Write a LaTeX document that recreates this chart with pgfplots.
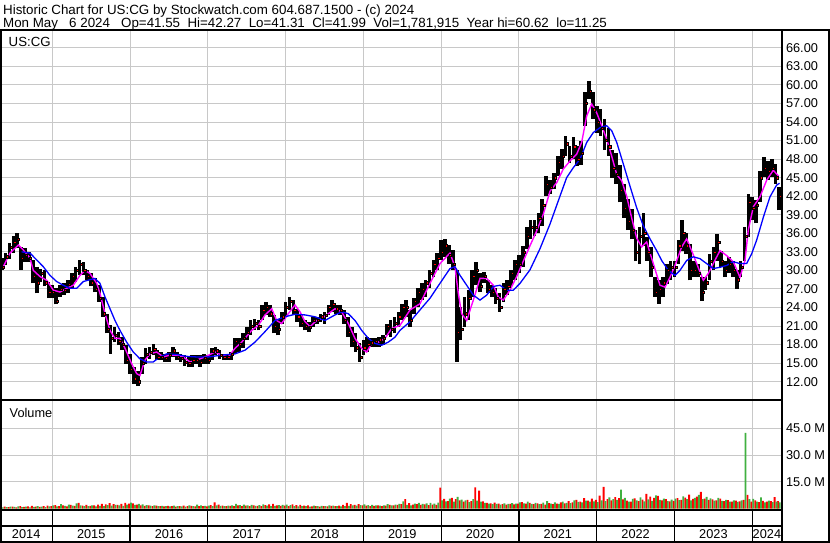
\documentclass[border=0pt]{standalone}
\usepackage{pgfplots}
\pgfplotsset{compat=1.18}
\usepackage{pgfplotstable}
\usepackage{fontspec}
\setmainfont{Liberation Sans}
\definecolor{gridc}{RGB}{200,200,200}
\definecolor{volred}{RGB}{255,0,0}
\definecolor{volgreen}{RGB}{64,176,64}
\definecolor{mafast}{RGB}{255,0,255}
\definecolor{maslow}{RGB}{0,0,255}
\newcommand{\lblfont}{\fontsize{12.8}{14}\selectfont}
\newcommand{\usfont}{\fontsize{13.3}{15}\selectfont}
\newcommand{\ttlfont}{\fontsize{13.4}{15}\selectfont}

\pgfplotstableread{
t lo hi cl rv gv
2014.35 30.0 32.0 30.5 0.9 0.7
2014.40 30.9 32.8 32.2 1.1 0.8
2014.45 31.9 34.4 33.8 0.8 1.0
2014.50 32.8 35.5 34.5 1.0 0.9
2014.55 33.6 36.0 35.0 0.7 1.2
2014.60 30.1 33.8 32.0 1.3 0.8
2014.65 31.4 33.6 32.5 0.9 1.0
2014.70 31.4 33.0 32.0 1.2 0.7
2014.75 27.9 31.7 29.0 1.5 0.9
2014.80 26.3 30.6 28.0 1.1 1.3
2014.85 28.2 30.3 29.5 0.9 1.0
2014.90 27.4 30.1 28.0 1.3 0.8
2014.95 25.5 28.2 26.5 1.6 1.2
2015.00 25.5 27.6 26.5 1.4 1.8
2015.05 24.5 27.1 25.0 1.9 1.2
2015.10 25.7 27.6 27.0 1.3 2.4
2015.15 26.0 27.9 26.8 1.7 1.5
2015.20 26.3 28.4 27.8 1.2 2.2
2015.25 27.1 29.5 29.0 2.0 1.6
2015.30 28.2 30.6 30.0 1.5 2.9
2015.35 29.2 31.7 31.0 3.2 1.8
2015.40 29.2 31.4 30.0 1.6 1.4
2015.45 28.4 30.0 29.0 2.1 1.3
2015.50 27.4 29.5 28.0 1.5 1.7
2015.55 26.5 28.7 27.0 1.8 1.2
2015.60 24.9 27.6 25.5 2.2 1.5
2015.65 22.5 25.7 23.0 2.6 1.4
2015.70 19.8 23.0 20.5 2.3 1.9
2015.75 16.5 21.1 19.0 3.0 1.6
2015.80 18.4 20.9 19.5 2.4 2.0
2015.85 17.9 20.1 18.5 2.0 1.7
2015.90 17.1 19.2 18.0 2.6 1.5
2015.95 14.9 17.9 15.5 3.1 2.2
2016.00 13.3 16.5 14.0 2.7 3.3
2016.05 11.7 14.4 12.5 2.9 2.1
2016.10 11.3 13.8 12.0 2.2 2.6
2016.15 13.3 16.0 15.0 1.8 2.3
2016.20 14.9 17.4 16.5 1.5 1.9
2016.25 15.7 17.6 16.8 1.7 1.6
2016.30 16.3 18.1 17.2 1.4 1.8
2016.35 15.5 17.1 16.0 1.6 1.3
2016.40 15.5 16.8 16.0 1.3 1.5
2016.45 15.2 16.5 15.8 1.2 1.4
2016.50 15.2 16.8 16.3 1.5 1.2
2016.55 16.0 17.6 17.0 1.3 1.6
2016.60 15.5 16.8 16.0 1.1 1.3
2016.65 15.2 16.5 15.8 1.4 1.2
2016.70 14.6 16.3 15.2 1.6 1.1
2016.75 14.4 16.0 15.0 1.3 1.7
2016.80 14.4 16.3 15.5 1.5 1.4
2016.85 14.9 16.3 15.5 1.2 2.2
2016.90 14.4 16.3 15.2 1.4 1.8
2016.95 14.9 16.5 15.8 1.3 1.5
2017.00 14.9 16.3 15.5 1.2 1.6
2017.05 15.5 17.4 17.0 1.9 1.4
2017.10 16.3 17.6 17.0 3.5 1.7
2017.15 15.7 17.1 16.3 2.2 1.5
2017.20 15.5 16.5 16.0 1.6 1.3
2017.25 15.5 16.5 16.0 1.4 1.6
2017.30 15.5 16.8 16.5 1.5 1.8
2017.35 16.5 19.0 18.5 1.3 2.6
2017.40 16.8 19.0 18.0 1.8 1.9
2017.45 17.4 19.8 19.0 1.4 2.2
2017.50 18.7 20.9 20.0 1.6 1.7
2017.55 19.5 21.9 21.0 1.3 2.1
2017.60 20.3 22.2 21.5 1.7 1.5
2017.65 20.3 21.9 21.0 1.5 1.9
2017.70 21.9 24.4 23.5 1.4 2.3
2017.75 22.8 24.9 24.0 1.9 1.6
2017.80 22.5 24.4 23.0 2.3 1.4
2017.85 19.8 22.8 21.0 2.6 1.5
2017.90 19.5 22.2 20.5 1.8 1.9
2017.95 21.4 23.3 22.5 1.5 2.0
2018.00 22.5 24.9 24.0 1.6 2.2
2018.05 23.6 25.7 25.0 1.4 1.9
2018.10 22.8 25.2 23.5 2.3 1.3
2018.15 21.7 23.8 22.5 1.9 1.2
2018.20 20.9 22.8 21.5 2.1 1.4
2018.25 20.3 21.9 21.0 1.6 1.3
2018.30 20.1 21.7 20.8 1.8 1.1
2018.35 20.9 22.5 22.0 1.2 1.6
2018.40 21.4 22.5 22.0 1.3 1.4
2018.45 21.7 23.0 22.5 1.1 1.5
2018.50 21.4 23.3 22.8 1.4 1.3
2018.55 22.8 24.4 24.0 1.2 1.8
2018.60 23.3 25.2 24.5 1.5 1.6
2018.65 23.0 24.4 23.8 1.3 1.4
2018.70 22.8 24.4 23.5 1.6 1.2
2018.75 21.4 23.6 22.0 2.0 1.3
2018.80 19.2 22.5 20.0 3.2 1.5
2018.85 17.6 20.9 18.5 2.4 1.8
2018.90 16.8 19.8 17.5 2.1 1.6
2018.95 15.2 18.2 16.0 2.5 1.9
2019.00 16.3 18.7 17.5 1.8 2.3
2019.05 16.8 19.2 18.0 1.6 1.9
2019.10 17.6 19.0 18.3 1.4 2.1
2019.15 17.6 19.0 18.5 1.5 1.7
2019.20 17.6 19.2 18.8 1.7 1.6
2019.25 17.9 19.5 19.0 1.3 1.8
2019.30 19.5 21.4 21.0 1.6 2.4
2019.35 19.2 21.9 20.5 2.0 1.7
2019.40 19.8 22.5 21.5 1.8 2.2
2019.45 20.9 23.3 22.5 2.1 2.6
2019.50 22.0 24.6 24.0 2.4 4.0
2019.55 22.5 25.2 24.0 5.3 2.1
2019.60 20.9 23.6 22.0 3.0 1.8
2019.65 23.0 25.5 25.0 2.2 2.8
2019.70 24.1 27.1 26.5 2.5 3.2
2019.75 25.2 27.9 27.0 2.0 2.6
2019.80 25.7 28.4 28.0 2.3 2.9
2019.85 27.1 30.1 29.5 1.9 3.1
2019.90 29.0 31.7 31.0 2.2 2.7
2019.95 30.1 32.8 32.0 2.0 3.3
2020.00 31.7 34.9 33.0 11.7 4.5
2020.05 32.2 35.0 34.0 5.4 4.0
2020.10 31.1 34.1 32.5 4.2 5.6
2020.15 30.1 33.3 31.0 6.0 3.8
2020.20 15.2 30.1 20.0 5.2 6.5
2020.25 18.7 24.1 20.5 4.5 5.0
2020.30 20.9 25.7 23.0 3.9 4.6
2020.35 22.0 26.8 25.5 4.8 3.6
2020.40 25.7 30.1 29.0 4.1 5.2
2020.45 27.6 31.4 30.0 11.8 4.4
2020.50 26.5 29.5 27.5 10.1 3.9
2020.55 27.9 29.8 29.0 4.0 3.2
2020.60 26.3 28.4 27.0 3.1 2.8
2020.65 25.7 27.6 26.5 2.9 2.4
2020.70 24.6 27.1 25.5 3.3 2.6
2020.75 23.3 26.3 24.0 2.7 2.2
2020.80 24.9 27.9 27.0 2.5 2.9
2020.85 26.0 28.4 27.5 2.2 2.6
2020.90 27.4 30.1 29.5 2.6 3.0
2020.95 28.4 31.7 31.0 2.3 2.7
2021.00 29.5 32.5 31.0 2.8 3.4
2021.05 30.6 34.0 33.0 3.6 2.9
2021.10 33.5 37.0 35.5 2.7 3.8
2021.15 35.0 38.2 37.0 3.2 2.6
2021.20 35.5 38.2 37.0 2.4 3.1
2021.25 36.1 39.3 38.5 2.9 2.5
2021.30 37.2 41.5 40.5 2.6 3.3
2021.35 42.0 45.3 44.0 2.2 4.2
2021.40 42.3 44.7 43.5 3.0 2.8
2021.45 43.1 45.8 45.0 2.5 3.4
2021.50 45.3 48.5 47.5 2.8 2.6
2021.55 46.4 49.6 48.5 3.4 3.9
2021.60 48.5 51.8 50.5 2.9 3.2
2021.65 47.4 50.1 48.5 4.1 3.0
2021.70 48.0 51.5 50.0 3.5 4.6
2021.75 46.9 50.1 48.0 4.8 3.7
2021.80 47.0 51.0 49.0 3.9 3.5
2021.85 53.4 58.8 57.0 5.8 4.4
2021.90 57.7 60.7 59.0 4.4 3.8
2021.95 54.5 58.8 56.0 5.5 4.0
2022.00 52.3 56.6 54.0 4.9 3.6
2022.05 51.8 56.1 53.0 7.2 4.5
2022.10 49.5 54.5 51.0 12.2 4.1
2022.15 48.5 53.0 50.0 5.3 6.2
2022.20 45.0 49.5 46.5 4.6 5.2
2022.25 44.0 49.0 45.5 6.4 4.9
2022.30 41.0 47.0 43.0 5.8 10.6
2022.35 38.5 44.0 40.0 5.1 6.0
2022.40 36.5 41.5 38.0 4.4 3.8
2022.45 35.0 40.0 36.5 3.9 5.4
2022.50 31.5 36.5 33.0 5.7 4.6
2022.55 31.0 37.0 35.5 4.2 6.3
2022.60 34.0 39.3 36.0 5.0 4.0
2022.65 31.6 35.4 33.0 8.2 5.1
2022.70 29.0 33.8 30.5 6.6 4.3
2022.75 25.7 28.9 26.5 5.9 7.4
2022.80 24.6 28.4 27.0 7.1 4.8
2022.85 25.7 28.9 28.0 4.5 5.6
2022.90 27.8 31.1 30.0 5.2 4.1
2022.95 28.4 31.6 30.5 4.0 5.0
2023.00 28.9 31.6 30.5 4.3 5.5
2023.05 31.1 34.9 34.0 5.8 4.7
2023.10 33.2 38.1 36.0 4.9 6.8
2023.15 32.7 36.0 34.0 6.1 5.2
2023.20 28.4 34.3 30.0 7.8 4.6
2023.25 28.9 31.6 30.0 5.4 6.0
2023.30 28.9 31.1 29.5 6.7 7.6
2023.35 25.1 28.9 26.5 9.4 5.3
2023.40 26.8 28.9 28.0 5.6 6.5
2023.45 28.4 32.6 31.5 4.8 5.7
2023.50 30.0 33.8 33.0 5.1 4.4
2023.55 31.6 35.9 34.5 4.6 5.9
2023.60 30.5 33.2 31.5 5.5 4.3
2023.65 28.9 31.6 30.0 4.2 4.9
2023.70 29.5 32.2 31.0 4.7 3.9
2023.75 28.9 31.6 30.0 3.8 4.5
2023.80 27.0 30.0 28.5 4.4 3.7
2023.85 28.9 31.6 30.5 4.0 4.6
2023.90 31.6 37.0 35.5 4.9 42.5
2023.95 35.4 42.4 41.0 7.6 5.2
2024.00 38.1 41.9 40.0 3.9 5.4
2024.05 37.6 41.4 40.5 4.6 3.8
2024.10 41.0 46.0 45.0 3.6 6.3
2024.15 45.1 48.3 46.5 4.3 3.5
2024.20 44.6 47.7 46.0 3.8 4.4
2024.25 45.1 48.0 46.5 4.1 3.6
2024.30 44.0 47.2 45.0 6.4 3.9
2024.34 39.7 43.5 42.0 4.2 3.4
}\pricedata

\pgfplotstableread{
t v
2014.370 30.6
2014.456 32.8
2014.563 34.1
2014.627 33.3
2014.713 32.0
2014.756 30.0
2014.842 29.0
2014.928 28.4
2015.013 26.8
2015.099 26.5
2015.185 27.1
2015.270 27.6
2015.356 29.2
2015.420 30.0
2015.485 29.5
2015.571 27.9
2015.613 26.3
2015.678 23.0
2015.742 20.3
2015.806 19.0
2015.870 19.0
2015.935 17.4
2016.021 14.9
2016.085 13.3
2016.127 13.0
2016.192 15.5
2016.256 16.5
2016.342 16.8
2016.427 16.0
2016.513 16.3
2016.599 16.3
2016.684 16.0
2016.770 15.2
2016.856 15.5
2016.963 16.0
2017.092 16.8
2017.178 16.3
2017.263 16.0
2017.349 17.4
2017.435 18.4
2017.564 20.3
2017.649 21.1
2017.735 22.8
2017.821 23.8
2017.885 21.9
2017.949 21.4
2018.034 23.0
2018.120 24.4
2018.185 23.3
2018.249 21.7
2018.313 20.9
2018.399 21.9
2018.464 22.2
2018.549 23.0
2018.635 23.8
2018.721 23.3
2018.806 21.4
2018.892 19.0
2018.978 17.4
2019.042 16.8
2019.106 18.2
2019.192 18.4
2019.277 19.0
2019.363 20.6
2019.470 21.1
2019.599 23.6
2019.727 24.6
2019.856 27.9
2019.984 31.1
2020.113 32.8
2020.177 30.6
2020.220 26.3
2020.263 23.0
2020.328 21.9
2020.413 25.2
2020.499 28.7
2020.585 28.7
2020.670 27.6
2020.734 25.7
2020.799 25.2
2020.884 26.8
2020.970 29.0
2021.056 31.5
2021.142 34.0
2021.228 36.4
2021.313 39.1
2021.399 42.8
2021.485 44.2
2021.570 46.4
2021.656 47.7
2021.742 48.8
2021.806 50.7
2021.871 55.0
2021.935 56.9
2021.999 55.5
2022.064 53.4
2022.128 51.2
2022.192 48.5
2022.257 45.5
2022.321 44.5
2022.385 42.0
2022.449 38.5
2022.514 35.2
2022.578 33.8
2022.642 34.6
2022.727 31.1
2022.813 27.6
2022.877 27.3
2022.942 28.9
2023.006 30.8
2023.092 33.8
2023.156 35.1
2023.220 33.2
2023.285 31.1
2023.370 28.4
2023.434 29.5
2023.498 31.1
2023.584 33.2
2023.670 32.4
2023.755 31.4
2023.841 28.9
2023.906 31.6
2023.948 36.5
2024.013 40.3
2024.099 41.9
2024.185 44.6
2024.270 46.2
2024.340 45.2
}\fastma

\pgfplotstableread{
t v
2014.606 33.0
2014.713 32.8
2014.799 31.7
2014.884 30.6
2014.970 29.2
2015.056 28.2
2015.141 27.6
2015.227 27.1
2015.313 27.1
2015.399 28.2
2015.485 28.5
2015.549 28.7
2015.613 27.9
2015.678 25.7
2015.742 23.8
2015.806 21.9
2015.870 20.3
2015.956 18.4
2016.041 16.8
2016.127 15.7
2016.213 15.2
2016.299 15.2
2016.385 16.0
2016.471 16.5
2016.599 16.4
2016.728 16.1
2016.856 16.0
2017.006 16.0
2017.178 16.3
2017.349 16.5
2017.478 17.1
2017.606 18.4
2017.735 20.1
2017.863 21.9
2017.992 22.5
2018.120 22.9
2018.249 22.8
2018.377 22.5
2018.506 21.9
2018.635 22.8
2018.721 23.3
2018.806 23.0
2018.892 21.9
2018.978 20.3
2019.063 19.0
2019.149 18.2
2019.235 17.9
2019.320 18.4
2019.406 19.2
2019.470 20.3
2019.599 21.7
2019.727 23.6
2019.856 25.5
2019.984 27.9
2020.113 30.3
2020.177 30.6
2020.242 29.2
2020.328 27.6
2020.413 26.0
2020.499 25.2
2020.585 26.0
2020.670 27.4
2020.756 27.6
2020.842 26.8
2020.927 26.8
2021.013 27.9
2021.142 30.1
2021.270 33.5
2021.399 37.5
2021.527 42.0
2021.613 45.0
2021.698 46.6
2021.785 48.0
2021.871 50.7
2021.956 52.3
2022.042 53.1
2022.128 53.4
2022.192 52.6
2022.257 50.7
2022.342 47.2
2022.428 43.6
2022.514 40.1
2022.599 37.2
2022.685 35.1
2022.770 33.2
2022.835 31.6
2022.920 30.0
2023.006 29.2
2023.070 30.0
2023.156 31.6
2023.241 32.2
2023.327 31.9
2023.413 31.1
2023.498 30.3
2023.584 30.5
2023.670 30.8
2023.755 31.4
2023.841 31.1
2023.927 31.1
2023.992 32.7
2024.056 34.9
2024.142 38.6
2024.227 41.9
2024.313 43.8
2024.350 44.1
}\slowma

\begin{document}
\begin{tikzpicture}
\useasboundingbox (0bp,0bp) rectangle (830bp,543bp);
\pgfplotsset{
  panel/.style={
    scale only axis, width=781.5bp,
    xmin=2014.3276, xmax=2024.3754,
    xtick={2015,2016,2017,2018,2019,2020,2021,2022,2023,2024},
    xticklabels={},
    major tick length=0pt,
    axis line style={line width=2bp},
    grid=major,
    major grid style={gridc, line width=1bp},
  }
}
% price panel
\begin{axis}[panel, anchor=north west, at={(0bp,512.5bp)}, height=369.5bp,
  ymin=9.04, ymax=68.80,
  ytick={12,15,...,66}, yticklabel pos=right,
  yticklabel style={font=\lblfont, xshift=1bp,
    /pgf/number format/.cd, fixed, fixed zerofill, precision=2, assume math mode=true}]
\addplot[draw=none, mark=none, forget plot,
  error bars/.cd, y dir=plus, y explicit, error mark=none,
  error bar style={draw=black, solid, line width=3.7bp}]
  table[x=t, y=lo, y error plus expr={\thisrow{hi}-\thisrow{lo}}] {\pricedata};
\addplot[only marks, mark=square*, mark size=1.1bp, forget plot,
  mark options={fill=red, draw=none, xshift=1.3bp}]
  table[x=t, y=cl] {\pricedata};
\addplot[mafast, line width=1.4bp, mark=none] table[x=t, y=v] {\fastma};
\addplot[maslow, line width=1.3bp, mark=none] table[x=t, y=v] {\slowma};
\end{axis}
% volume panel
\begin{axis}[panel, anchor=north west, at={(0bp,143bp)}, height=110bp,
  ymin=-0.84, ymax=60.88,
  ytick={15,30,45}, yticklabels={15.0 M,30.0 M,45.0 M}, yticklabel pos=right,
  yticklabel style={font=\lblfont, xshift=1bp},
  ybar=0pt, bar width=1.9bp]
\addplot[fill=volred, draw=none] table[x=t, y=rv] {\pricedata};
\addplot[fill=volgreen, draw=none] table[x=t, y=gv] {\pricedata};
\end{axis}
% timeline panel
\begin{axis}[panel, anchor=north west, at={(0bp,33bp)}, height=32bp,
  ymin=0, ymax=2, ytick=\empty,
  major grid style={black, line width=1.2bp}]
\draw[black, line width=2bp] (axis cs:2014.3276,1) -- (axis cs:2024.3754,1);
\node[font=\lblfont] at (axis cs:2014.664,0.5) {2014};
\node[font=\lblfont] at (axis cs:2015.5,0.5) {2015};
\node[font=\lblfont] at (axis cs:2016.5,0.5) {2016};
\node[font=\lblfont] at (axis cs:2017.5,0.5) {2017};
\node[font=\lblfont] at (axis cs:2018.5,0.5) {2018};
\node[font=\lblfont] at (axis cs:2019.5,0.5) {2019};
\node[font=\lblfont] at (axis cs:2020.5,0.5) {2020};
\node[font=\lblfont] at (axis cs:2021.5,0.5) {2021};
\node[font=\lblfont] at (axis cs:2022.5,0.5) {2022};
\node[font=\lblfont] at (axis cs:2023.5,0.5) {2023};
\node[font=\lblfont] at (axis cs:2024.188,0.5) {2024};
\end{axis}
% frame
\draw[line width=2bp] (0bp,512.5bp) -- (830bp,512.5bp);
\draw[line width=2bp] (829bp,512.5bp) -- (829bp,0bp);
\draw[line width=2bp] (0bp,1bp) -- (830bp,1bp);
\draw[line width=2bp] (1bp,512.5bp) -- (1bp,0bp);
% texts
\node[anchor=base west, font=\ttlfont, inner sep=0pt] at (3bp,528.5bp)
  {Historic Chart for US:CG by Stockwatch.com 604.687.1500 - (c) 2024};
\node[anchor=base west, font=\ttlfont, inner sep=0pt] at (3bp,515.5bp)
  {Mon May~~~6 2024~~~Op=41.55~~Hi=42.27~~Lo=41.31~~Cl=41.99~~Vol=1,781,915~~Year hi=60.62~~lo=11.25};
\node[anchor=base west, font=\usfont, inner sep=0pt] at (8.5bp,496.5bp) {US:CG};
\node[anchor=base west, font=\lblfont, inner sep=0pt] at (9.5bp,125bp) {Volume};
\end{tikzpicture}
\end{document}
